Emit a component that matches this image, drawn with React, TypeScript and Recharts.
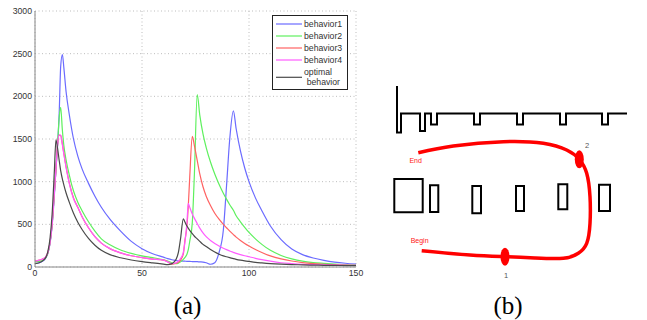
import React from 'react';
import {
  LineChart,
  Line,
  XAxis,
  YAxis,
  CartesianGrid,
  ComposedChart,
  ReferenceArea,
  ReferenceDot,
} from 'recharts';

// ---- panel (a): bandwidth curves ----
const steps = [
  0, 2, 4, 5, 6, 7, 8, 9, 9.8, 10.5, 11.3, 12, 12.8, 13.5, 14.5, 16, 18, 20, 22, 25, 28, 31, 35,
  40, 45, 50, 55, 60, 62, 64, 65, 66, 67, 68, 69.3, 70, 71, 71.6, 72.3, 73.5, 74.5, 75.8, 77, 78.5,
  80, 82, 84, 86, 88, 89.5, 91, 92.7, 94, 96, 98, 100, 103, 106, 110, 115, 120, 125, 130, 135, 140,
  145, 150,
];

const behavior1 = [
  40, 50, 75, 105, 160, 270, 480, 820, 1150, 1400, 1800, 2350, 2490, 2330, 2060, 1790, 1500, 1300,
  1150, 980, 830, 700, 560, 420, 300, 215, 155, 115, 98, 85, 80, 76, 73, 71, 69, 68, 67, 66, 65,
  64, 63, 62, 60, 58, 50, 32, 50, 170, 430, 950, 1500, 1830, 1620, 1360, 1160, 1000, 810, 660, 480,
  320, 210, 145, 105, 78, 58, 44, 34,
];

const behavior2 = [
  60, 65, 85, 110, 160, 280, 500, 850, 1150, 1420, 1750, 1870, 1600, 1420, 1260, 1080, 890, 760,
  660, 530, 420, 330, 260, 200, 160, 130, 110, 85, 70, 48, 38, 38, 45, 60, 90, 110, 150, 200, 300,
  520, 1100, 2020, 1780, 1560, 1400, 1230, 1090, 970, 865, 795, 730, 665, 600, 530, 465, 405, 330,
  265, 195, 135, 95, 68, 52, 42, 33, 26, 21,
];

const behavior3 = [
  70, 80, 100, 120, 170, 285, 505, 855, 1150, 1420, 1545, 1540, 1440, 1330, 1180, 990, 810, 700,
  590, 460, 355, 280, 215, 165, 132, 110, 93, 80, 62, 32, 40, 45, 55, 80, 150, 300, 480, 700, 1050,
  1530, 1420, 1250, 1090, 940, 830, 720, 630, 560, 500, 460, 420, 380, 350, 310, 275, 245, 205, 170,
  130, 95, 70, 52, 40, 32, 26, 22, 20,
];

const behavior4 = [
  70, 80, 100, 120, 170, 280, 500, 850, 1150, 1420, 1545, 1545, 1430, 1320, 1170, 980, 800, 700,
  590, 460, 355, 280, 215, 165, 132, 110, 93, 80, 60, 40, 45, 50, 70, 100, 170, 280, 520, 747, 700,
  620, 570, 510, 455, 400, 355, 310, 275, 245, 220, 203, 188, 172, 160, 145, 132, 120, 102, 86, 68,
  50, 40, 32, 28, 25, 22, 20, 18,
];

const optimal = [
  40, 50, 80, 110, 180, 330, 620, 1100, 1490, 1400, 1250, 1130, 1030, 960, 870, 760, 630, 525, 440,
  335, 255, 195, 145, 108, 82, 63, 48, 34, 28, 40, 60, 95, 170, 330, 565, 530, 480, 455, 430, 390,
  360, 330, 300, 265, 240, 205, 175, 150, 130, 120, 110, 98, 90, 80, 72, 65, 55, 48, 40, 33, 28, 25,
  22, 20, 18, 17, 15,
];

const xTicks = [0, 50, 100, 150];
const yTicks = [0, 500, 1000, 1500, 2000, 2500, 3000];

const seriesNames = ['behavior1', 'behavior2', 'behavior3', 'behavior4', 'optimal behavior'];
const seriesColors = ['#6b6bff', '#5ef05e', '#ff6262', '#ff5cff', '#4a4a4a'];
const seriesValues = [behavior1, behavior2, behavior3, behavior4, optimal];

const rows = steps.map((x, i) => {
  const row: Record<string, number> = { x };
  seriesNames.forEach((name, s) => {
    row[name] = seriesValues[s][i];
  });
  return row;
});

// ---- panel (b): sketch of the scene ----
const stepX = [12, 12, 16, 16, 35, 35, 40, 40, 46, 46, 52, 52, 89, 89, 95, 95, 132, 132, 138, 138, 175, 175, 181, 181, 217, 217, 223, 223, 242];
const stepY = [11, 57.5, 57.5, 38.5, 38.5, 56, 56, 38.5, 38.5, 49.5, 49.5, 38.5, 38.5, 49.5, 49.5, 38.5, 38.5, 49.5, 49.5, 38.5, 38.5, 49.5, 49.5, 38.5, 38.5, 49.5, 49.5, 38.5, 38.5];

const boxX1 = [9.3, 45, 87.3, 131, 173.3, 214];
const boxX2 = [37.7, 53.3, 96, 139, 182.3, 225];
const boxY1 = [104, 110.3, 111, 111, 109.3, 109.7];
const boxY2 = [137.3, 137, 138.3, 136, 134.3, 136];

const pathX = [33.3, 68.3, 118.3, 158.3, 181.7, 194.3, 201.7, 205, 205, 201.7, 193.3, 178.3, 150, 120, 85, 36.7];
const pathY = [77.7, 71, 66.7, 68.3, 75, 84.3, 98.3, 121.7, 148.3, 168.3, 178.3, 183.3, 183, 181.7, 180, 175.7];

const waypointX = [120, 194.3];
const waypointY = [181.7, 84.3];
const waypointNames = ['1', '2'];
const waypointLabelX = [121, 202];
const waypointLabelY = [200.3, 70.5];

const stepRows = stepX.map((x, i) => ({ x, y: stepY[i] }));
const pathRows = pathX.map((x, i) => ({ x, y: pathY[i] }));

const SANS = '"Liberation Sans", Arial, sans-serif';
const SERIF = '"Liberation Serif", "Times New Roman", serif';

const LegendBox = () => (
  <svg width={76} height={75} style={{ position: 'absolute', left: 272, top: 15 }}>
    <rect x={0.5} y={0.5} width={75} height={74} fill="#fff" stroke="#222" strokeWidth={1} />
    {seriesNames.slice(0, 4).map((name, i) => (
      <g key={name}>
        <line x1={4} x2={30} y1={9 + i * 12} y2={9 + i * 12} stroke={seriesColors[i]} strokeWidth={1.2} />
        <text x={32} y={9 + i * 12} dy="0.35em" fontSize={8.7} fontFamily={SANS} fill="#333">
          {name}
        </text>
      </g>
    ))}
    <line x1={4} x2={30} y1={62.3} y2={62.3} stroke={seriesColors[4]} strokeWidth={1.2} />
    <text x={32} y={57.3} dy="0.35em" fontSize={8.7} fontFamily={SANS} fill="#333">
      optimal
    </text>
    <text x={34.7} y={67.3} dy="0.35em" fontSize={8.7} fontFamily={SANS} fill="#333">
      behavior
    </text>
  </svg>
);

const Waypoint = (props: any) => (
  <ellipse cx={props.cx} cy={props.cy} rx={4.5} ry={9} fill="#ff0000" />
);

export default function App() {
  return (
    <div style={{ position: 'absolute', left: 0, top: 0, width: 647, height: 320, background: '#fff', overflow: 'hidden' }}>
      <div style={{ position: 'absolute', left: 0, top: 0 }}>
        <LineChart width={375} height={285} data={rows} margin={{ top: 11, right: 19, bottom: 0, left: 0 }}>
          <CartesianGrid stroke="#bdbdbd" strokeDasharray="1 2.5" />
          <XAxis
            dataKey="x"
            type="number"
            domain={[0, 150]}
            ticks={xTicks}
            height={18}
            tickLine={false}
            tickSize={0}
            tickMargin={3}
            axisLine={{ stroke: '#888' }}
            tick={{ fill: '#333', fontSize: 8.7, fontFamily: SANS }}
          />
          <YAxis
            type="number"
            domain={[0, 3000]}
            ticks={yTicks}
            width={35}
            tickLine={false}
            tickSize={0}
            tickMargin={3}
            axisLine={{ stroke: '#888' }}
            tick={{ fill: '#333', fontSize: 8.7, fontFamily: SANS }}
          />
          {seriesNames.map((name, i) => (
            <Line
              key={name}
              dataKey={name}
              type="monotone"
              stroke={seriesColors[i]}
              strokeWidth={1.2}
              dot={false}
              isAnimationActive={false}
            />
          ))}
        </LineChart>
        <LegendBox />
      </div>

      <div style={{ position: 'absolute', left: 385, top: 75 }}>
        <ComposedChart width={255} height={210} margin={{ top: 0, right: 0, bottom: 0, left: 0 }}>
          <XAxis dataKey="x" type="number" domain={[0, 255]} hide />
          <YAxis dataKey="y" type="number" domain={[0, 210]} reversed hide />
          <Line
            data={stepRows}
            dataKey="y"
            type="linear"
            stroke="#000"
            strokeWidth={2}
            dot={false}
            isAnimationActive={false}
          />
          {boxX1.map((x1, i) => (
            <ReferenceArea
              key={i}
              x1={x1}
              x2={boxX2[i]}
              y1={boxY1[i]}
              y2={boxY2[i]}
              fill="#fff"
              fillOpacity={1}
              stroke="#000"
              strokeWidth={2}
            />
          ))}
          <Line
            data={pathRows}
            dataKey="y"
            type="natural"
            stroke="#ff0000"
            strokeWidth={3.5}
            dot={false}
            isAnimationActive={false}
          />
          {waypointX.map((x, i) => (
            <ReferenceDot key={'w' + i} x={x} y={waypointY[i]} r={9} shape={Waypoint} />
          ))}
          {waypointNames.map((name, i) => (
            <ReferenceDot
              key={'l' + i}
              x={waypointLabelX[i]}
              y={waypointLabelY[i]}
              r={0}
              fill="none"
              stroke="none"
              label={{ value: name, position: 'center', fill: '#555', fontSize: 7.5, fontFamily: SANS }}
            />
          ))}
          <ReferenceDot
            x={30.7}
            y={85.3}
            r={0}
            fill="none"
            stroke="none"
            label={{ value: 'End', position: 'center', fill: '#ff2020', fontSize: 7, fontFamily: SANS }}
          />
          <ReferenceDot
            x={34.6}
            y={165.3}
            r={0}
            fill="none"
            stroke="none"
            label={{ value: 'Begin', position: 'center', fill: '#ff2020', fontSize: 7, fontFamily: SANS }}
          />
        </ComposedChart>
      </div>

      <svg width={647} height={320} style={{ position: 'absolute', left: 0, top: 0, pointerEvents: 'none' }}>
        <text x={187.5} y={314} textAnchor="middle" fontSize={25} fontFamily={SERIF} fill="#000">
          (a)
        </text>
        <text x={508} y={314} textAnchor="middle" fontSize={25} fontFamily={SERIF} fill="#000">
          (b)
        </text>
      </svg>
    </div>
  );
}
